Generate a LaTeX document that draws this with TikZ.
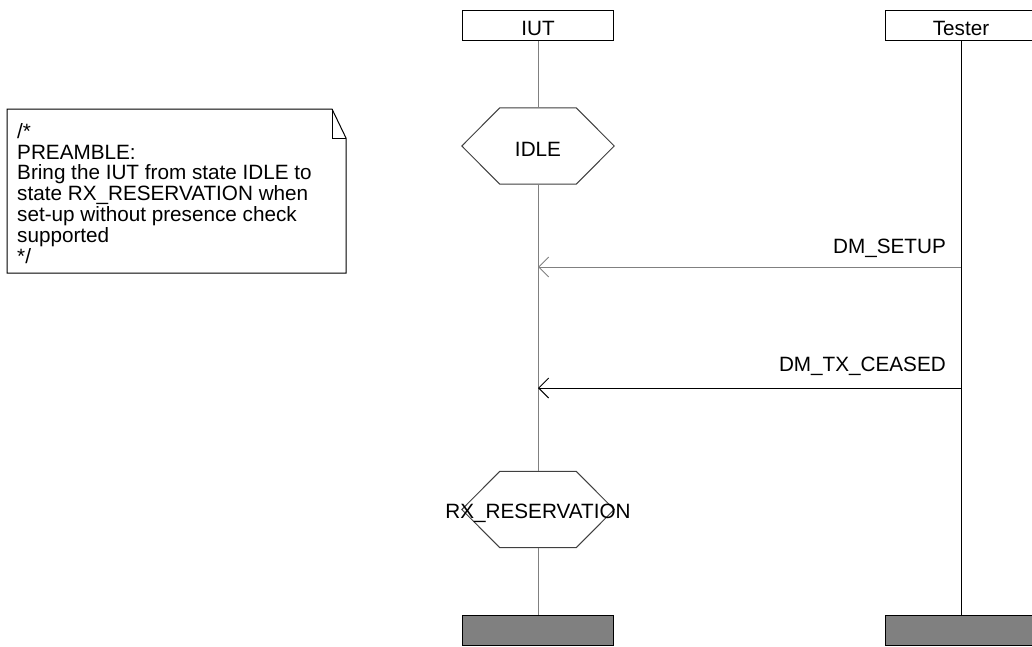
\documentclass[tikz,border=0pt]{standalone}
\usepackage{fontspec}
\setmainfont{Liberation Sans}
\usetikzlibrary{arrows.meta,positioning,calc}
\definecolor{lifegray}{HTML}{808080}
\definecolor{edgegray}{HTML}{404040}
\tikzset{
  instbox/.style={
    rectangle, draw=black, line width=1pt, fill=white,
    minimum width=151pt, minimum height=30pt, inner sep=0pt,
    text height=21pt, text depth=0pt,
    font=\fontsize{20.7}{24}\selectfont
  },
  stopbox/.style={
    rectangle, draw=black, line width=1pt, fill=lifegray,
    minimum width=151pt, minimum height=30pt, inner sep=0pt
  },
  statebox/.style={
    rectangle, minimum width=152pt, minimum height=76pt, inner sep=0pt,
    text height=21pt, text depth=0pt,
    font=\fontsize{20.7}{24}\selectfont
  },
  hexline/.style={draw=edgegray, line width=1pt, fill=white},
  lifeline/.style={line width=1pt},
  msg/.style={-{Straight Barb[length=10pt,width=20pt]}, line width=1pt},
  msglabel/.style={
    font=\fontsize{20.7}{24}\selectfont, inner sep=0pt, anchor=base east
  },
  notetext/.style={
    font=\fontsize{20.7}{20.8}\selectfont, inner sep=0pt,
    align=left, anchor=north west
  },
}

\begin{document}
\begin{tikzpicture}[x=1pt, y=1pt]
  \useasboundingbox (0,0) rectangle (1032,-646);

  % ── Column positions ─────────────────────────────────────────────
  \def\colA{538}      % IUT
  \def\colB{961}      % Tester

  % ── Instances ────────────────────────────────────────────────────
  \node[instbox] (iut)    at (\colA,-25) {IUT};
  \node[instbox] (tester) at (\colB,-25) {Tester};

  % ── States on the IUT lifeline ───────────────────────────────────
  \node[statebox] (idle)  at (\colA,-146)   {};
  \node[statebox] (rxres) at (\colA,-509.5) {};
  \foreach \s in {idle,rxres} {
    \draw[hexline] (\s.west) -- ($(\s.north west)+(38,0)$)
      -- ($(\s.north east)+(-38,0)$) -- (\s.east)
      -- ($(\s.south east)+(-38,0)$) -- ($(\s.south west)+(38,0)$) -- cycle;
  }
  \node[statebox] at (idle)  {IDLE};
  \node[statebox] at ($(rxres)+(0,2)$) {RX\_RESERVATION};

  % ── Stops ────────────────────────────────────────────────────────
  \node[stopbox] (iutend)    at (\colA,-630) {};
  \node[stopbox] (testerend) at (\colB,-630) {};

  % ── Lifelines ────────────────────────────────────────────────────
  \draw[lifeline, lifegray] (iut.south) -- (idle.north);
  \draw[lifeline, lifegray] (idle.south) -- (rxres.north);
  \draw[lifeline, lifegray] (rxres.south) -- (iutend.north);
  \draw[lifeline] (tester.south) -- (testerend.north);

  % ── Messages ─────────────────────────────────────────────────────
  \coordinate (setupT)  at (\colB,-267);
  \coordinate (setupI)  at (\colA,-267);
  \coordinate (ceaseT)  at (\colB,-388);
  \coordinate (ceaseI)  at (\colA,-388);

  \draw[msg, lifegray] (setupT) -- (setupI);
  \node[msglabel] (setuplbl) at ($(setupT)+(-15,14)$) {DM\_SETUP};

  \draw[msg] (ceaseT) -- (ceaseI);
  \node[msglabel] (ceaselbl) at ($(ceaseT)+(-15,17)$) {DM\_TX\_CEASED};

  % ── Comment ──────────────────────────────────────────────────────
  \draw[line width=1pt] (7,-109) -- (332,-109) -- (346,-138)
    -- (346,-273) -- (7,-273) -- cycle;
  \draw[line width=1pt] (332,-109) -- (332,-138) -- (346,-138);
  \node[notetext] (note) at (17,-123)
    {/*\\
     PREAMBLE:\\
     Bring the IUT from state IDLE to\\
     state RX\_RESERVATION when\\
     set-up without presence check\\
     supported\\
     */};

\end{tikzpicture}
\end{document}
